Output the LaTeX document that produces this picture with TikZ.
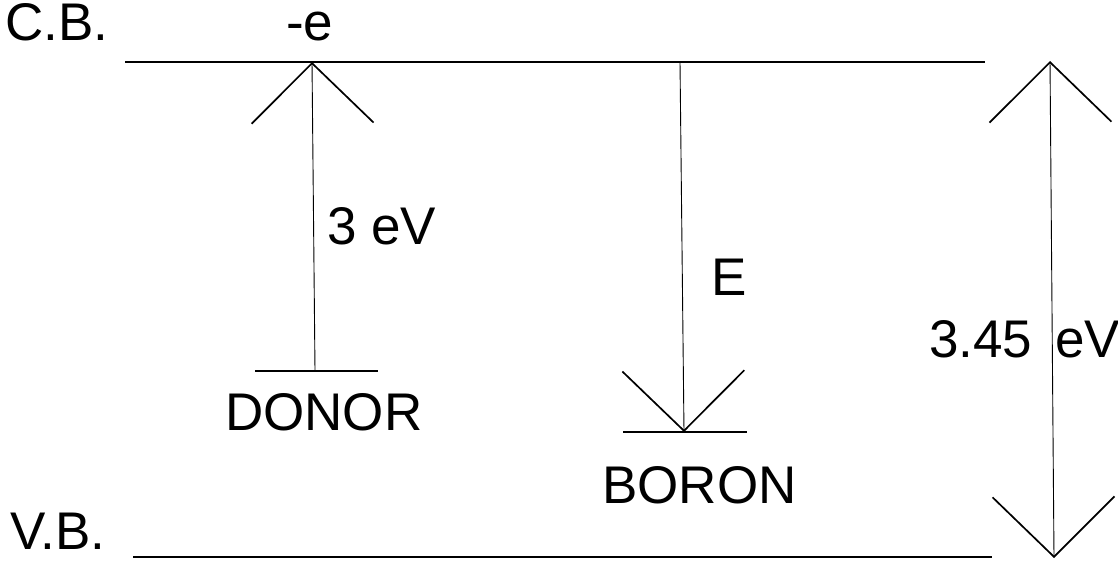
\documentclass[tikz,border=0pt]{standalone}
\usepackage{fontspec}
\setmainfont{Liberation Sans}
\usetikzlibrary{arrows.meta, positioning}

\begin{document}
\begin{tikzpicture}[x=1pt, y=-1pt,
      level/.style={line width=1.6pt},
      shaft/.style={line width=0.9pt},
      bigtip/.style={-{Straight Barb[length=60pt, width=122pt, line width=1.7pt]}},
      bigtips/.style={{Straight Barb[length=60pt, width=122pt, line width=1.7pt]}-{Straight Barb[length=60pt, width=122pt, line width=1.7pt]}},
      lbl/.style={font=\fontsize{53}{60}\selectfont, inner sep=0pt, anchor=base west}]
            \useasboundingbox (0,0) rectangle (1118,565);
            % Band edges
            \coordinate (cbL) at (125,62);
            \coordinate (cbR) at (985,62);
            \coordinate (vbL) at (133,557);
            \coordinate (vbR) at (992,557);
            \draw[level] (cbL) -- (cbR);
            \draw[level] (vbL) -- (vbR);
            \node[lbl] (cb) at (5,40) {C.B.};
            \node[lbl] (vb) at (10,549) {V.B.};
            % Donor level and excitation
            \coordinate (dL) at (255,371);
            \coordinate (dR) at (378,371);
            \coordinate (dB) at (315,371);
            \coordinate (dT) at (312,62);
            \draw[level] (dL) -- (dR);
            \draw[shaft, bigtip] (dB) -- (dT);
            \node[lbl] (elec) at (286,40) {-e};
            \node[lbl] (donor) at (225,430) {DONOR};
            \node[lbl] (gapd) at (327,244) {3 eV};
            % Boron level and capture
            \coordinate (bL) at (623,432);
            \coordinate (bR) at (747,432);
            \coordinate (bT) at (680,62);
            \coordinate (bB) at (684,432);
            \draw[level] (bL) -- (bR);
            \draw[shaft, bigtip] (bT) -- (bB);
            \node[lbl] (boron) at (602,503) {BORON};
            \node[lbl] (ener) at (711,295) {E};
            % Band gap
            \coordinate (gT) at (1050,61);
            \coordinate (gB) at (1054,558);
            \draw[shaft, bigtips] (gB) -- (gT);
            \node[lbl] (gap) at (929,357) {3.45\hspace{8pt} eV};
\end{tikzpicture}
\end{document}
